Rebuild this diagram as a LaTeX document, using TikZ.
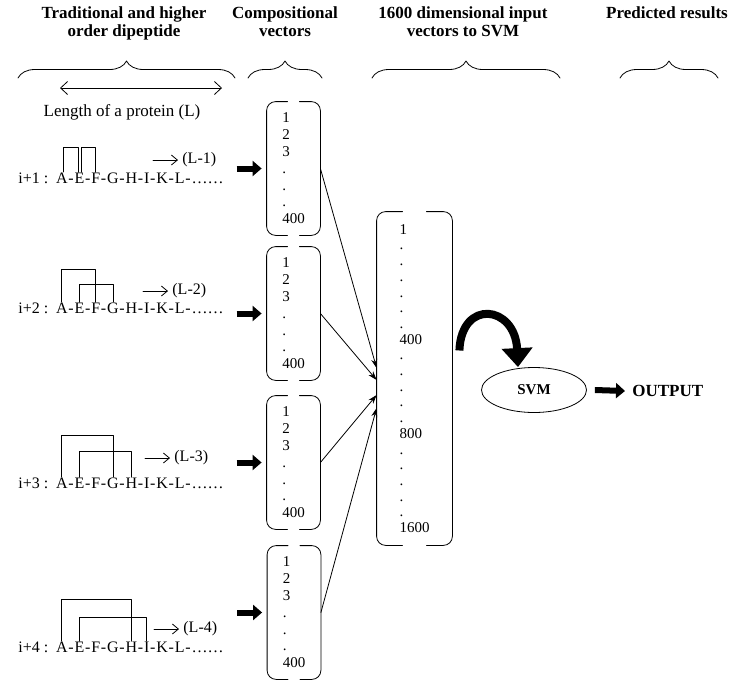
\documentclass[tikz,border=0pt]{standalone}
\usepackage{fontspec}
\setmainfont{Liberation Serif}
\usetikzlibrary{calc,arrows.meta,positioning,shapes.geometric,decorations.pathreplacing}

\begin{document}
\begin{tikzpicture}[x=1pt, y=-1pt, >=stealth, line join=round, line cap=round, line width=0.8pt,
    head/.style={font=\bfseries\fontsize{17}{18}\selectfont, align=center, anchor=north},
    seq/.style={inner sep=0pt, font=\fontsize{16}{18}\selectfont, anchor=base west},
    vec/.style={minimum width=53pt, minimum height=133pt, align=left, inner sep=0pt, font=\fontsize{15}{16.8}\selectfont},
    fat/.style={line width=6pt, line cap=butt, -{Triangle[length=9pt,width=15pt]}},
    barb/.style={-{Straight Barb[length=6pt,width=10pt]}},
    brc/.style={decorate, decoration={brace, amplitude=17pt}}]
    \useasboundingbox (0,0) rectangle (729,681);

    \node[head] (hseq) at (124,3) {Traditional and higher\\order dipeptide};
    \node[head] (hcomp) at (285,3) {Compositional\\vectors};
    \node[head] (hin) at (463,3) {1600 dimensional input\\vectors to SVM};
    \node[head] (hres) at (667,3) {Predicted results};
    \draw[brc] (18,78) -- (235,78);
    \draw[brc] (248,78) -- (322,78);
    \draw[brc] (372,78) -- (560,78);
    \draw[brc] (620,78) -- (718,78);

    \node[font=\fontsize{17}{18}\selectfont] (len) at (122,112) {Length of a protein (L)};
    \coordinate (pl) at (60,88);
    \coordinate (pr) at (222,88);
    \draw[{Straight Barb[length=7pt,width=13pt]}-{Straight Barb[length=7pt,width=13pt]}] (pl) -- (pr);

    \node[vec] (v1) at (293.5,168.5) {1\\2\\3\\.\\.\\.\\400};
    \node[vec] (v2) at (293.5,313.5) {1\\2\\3\\.\\.\\.\\400};
    \node[vec] (v3) at (293.5,462.5) {1\\2\\3\\.\\.\\.\\400};
    \node[vec] (v4) at (294,612.5) {1\\2\\3\\.\\.\\.\\400};
    \node[vec, minimum width=75pt, minimum height=333pt, font=\fontsize{15}{15.7}\selectfont] (big) at (414.5,378.5)
      {1\\.\\.\\.\\.\\.\\.\\400\\.\\.\\.\\.\\.\\800\\.\\.\\.\\.\\.\\1600};
    \foreach \b/\g in {v1/6,v2/6,v3/6,v4/6,big/12}{
      \draw[rounded corners=9pt] ([xshift=-\g pt]\b.north) -| (\b.west) |- ([xshift=-\g pt]\b.south);
      \draw[rounded corners=9pt] ([xshift=\g pt]\b.north) -| (\b.east) |- ([xshift=\g pt]\b.south);
    }

    \foreach \r/\y/\lx/\ly in {1/183/182/160, 2/313/172/291, 3/488/174/458, 4/652/183/629}{
      \node[seq] (h\r0) at (18,\y) {i+\r\ :\kern7pt};
      \foreach \l [remember=\l as \p (initially 0)] in {A,E,F,G,H,I,K,L}{
        \node[seq] (r\r\l) at (h\r\p.base east) {\l};
        \node[seq] (h\r\l) at (r\r\l.base east) {-};
      }
      \node[seq] (e\r) at (h\r L.base east) {\dots\dots};
      \node[seq, anchor=west] (l\r) at (\lx,\ly) {(L-\r)};
      \draw[barb] ([xshift=-29pt]l\r.west) -- ([xshift=-4pt]l\r.west);
      \draw[fat] ([xshift=-30pt]v\r.west) -- ([xshift=-5pt]v\r.west);
    }

    \draw ([xshift=1.5pt]r1A.north) -- ++(0,-25) -| ([xshift=-1.5pt]r1E.north);
    \draw ([xshift=1.5pt]r1E.north) -- ++(0,-25) -| (r1F.north);
    \draw (r2A.north) -- ++(0,-33) -| (r2F.north);
    \draw (r2E.north) -- ++(0,-18) -| (r2G.north);
    \draw (r3A.north) -- ++(0,-42) -| (r3G.north);
    \draw (r3E.north) -- ++(0,-26) -| (r3H.north);
    \draw (r4A.north) -- ++(0,-42) -| (r4H.north);
    \draw (r4E.north) -- ++(0,-24) -| (r4I.north);

    \foreach \r/\s in {1/10.5, 2/-1.5, 3/-16.5, 4/-29.5}
      \draw[-{Stealth[length=9pt,width=6pt]}] (v\r.east) -- ([yshift=\s pt]big.west);

    \node[ellipse, draw, minimum width=105pt, minimum height=45pt, font=\bfseries\fontsize{15}{16}\selectfont] (svm) at (534,390) {SVM};
    \node[anchor=west, inner sep=0pt, font=\bfseries\fontsize{17}{18}\selectfont] (out) at (632,391) {OUTPUT};
    \draw[fat] ([xshift=8pt]svm.east) -- ([xshift=-7pt]out.west);
    \draw[line width=8pt, line cap=butt, -{Triangle[length=19pt,width=30pt]}]
      ([shift={(7,-28)}]big.east) .. controls +(2,-52) and +(-3,-62) .. ([xshift=-16pt]svm.north);
  \end{tikzpicture}
\end{document}
